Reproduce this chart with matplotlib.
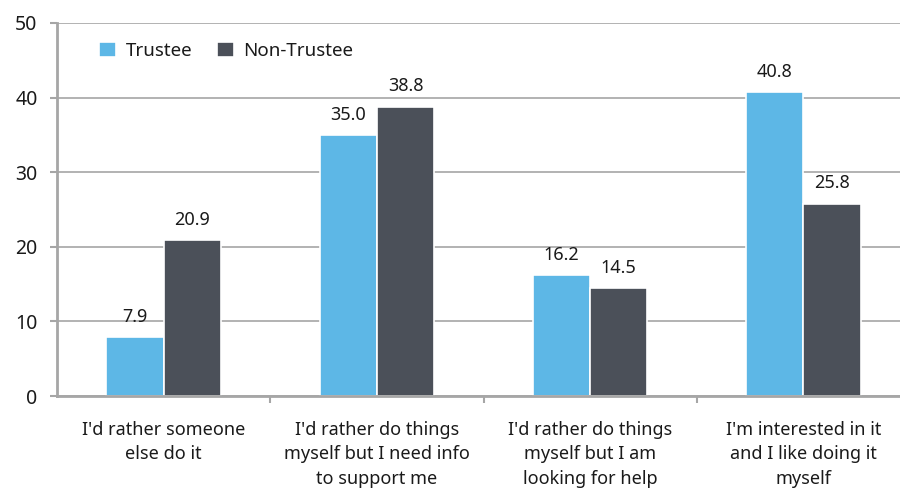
import matplotlib
matplotlib.use("Agg")
import matplotlib.pyplot as plt
import numpy as np

categories = ["I'd rather someone\nelse do it",
              "I'd rather do things\nmyself but I need info\nto support me",
              "I'd rather do things\nmyself but I am\nlooking for help",
              "I'm interested in it\nand I like doing it\nmyself"]
series_names = ["Trustee", "Non-Trustee"]
trustee = [7.9, 35.0, 16.2, 40.8]
non_trustee = [20.9, 38.8, 14.5, 25.8]
yticks = [0, 10, 20, 30, 40, 50]

plt.rcParams['font.family'] = ['Noto Sans', 'DejaVu Sans']
fig = plt.figure(figsize=(9, 4.88), dpi=100)
W, H = 900, 488
ax = fig.add_axes([57/W, 1 - 396/H, (910-57)/W, (396-23)/H])

c1 = '#5db7e6'
c2 = '#4b5059'
grid_c = '#a6a6a6'
txt_c = '#1a1a1a'
x = np.arange(len(categories))
bw = 0.268
b1 = ax.bar(x - bw/2, trustee, bw, color=c1, edgecolor='white', linewidth=1.2, label=series_names[0], zorder=2)
b2 = ax.bar(x + bw/2, non_trustee, bw, color=c2, edgecolor='white', linewidth=1.2, label=series_names[1], zorder=2)

for bars, vals in ((b1, trustee), (b2, non_trustee)):
    for r, v in zip(bars, vals):
        ax.annotate(f"{v:.1f}", (r.get_x() + r.get_width()/2, v), xytext=(0, 8),
                    textcoords='offset points', ha='center', va='bottom', fontsize=13, color=txt_c, zorder=3)

ax.set_xlim(-0.5, 3.5)
ax.set_ylim(0, 50)
ax.set_yticks(yticks)
ax.set_yticklabels([str(t) for t in yticks], fontsize=14)
ax.yaxis.grid(True, color=grid_c, linewidth=1.2, zorder=0)
ax.set_axisbelow(True)

ax.set_xticks([0.5, 1.5, 2.5], minor=False)
ax.set_xticklabels([])
ax.set_xticks(x, minor=True)
ax.set_xticklabels(categories, minor=True, fontsize=13, linespacing=1.45, color=txt_c, va='top')
ax.tick_params(axis='x', which='minor', length=0, pad=18)
ax.tick_params(axis='x', which='major', length=5, width=1.5, color=grid_c, direction='out')
ax.tick_params(axis='y', length=5, width=1.5, color=grid_c, pad=9, labelcolor=txt_c)

for s in ['top', 'right']:
    ax.spines[s].set_visible(False)
for s in ['left', 'bottom']:
    ax.spines[s].set_color(grid_c)
    ax.spines[s].set_linewidth(2)

leg = ax.legend(loc='upper left', bbox_to_anchor=(0.03, 0.995), ncol=2, frameon=False, fontsize=13.5,
                handlelength=0.9, handleheight=0.9, handletextpad=0.5, columnspacing=1.3)
for t in leg.get_texts():
    t.set_color(txt_c)

fig.savefig('out.png', dpi=100)
